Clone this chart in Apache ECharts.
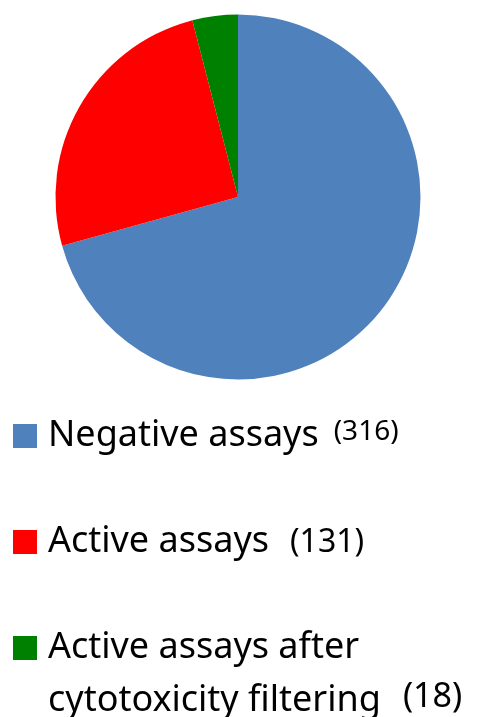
<!DOCTYPE html>
<html>
<head>
<meta charset="utf-8">
<script src="https://cdn.jsdelivr.net/npm/echarts@6/dist/echarts.min.js"></script>
<style>
  html, body { margin: 0; padding: 0; background: #ffffff; }
  #chart { width: 485px; height: 717px; }
</style>
</head>
<body>
<div id="chart"></div>
<script>
// Assay outcomes
const categories = ['Negative assays', 'Active assays', 'Active assays after\ncytotoxicity filtering'];
const counts = [316, 131, 18];
const colors = ['#4F81BD', '#FF0000', '#008000'];

// Actives that survive cytotoxicity filtering are a subset of all actives,
// so the red slice holds the remaining actives and the green slice the survivors.
const sliceValues = [counts[0], counts[1] - counts[2], counts[2]];

const FONT = '"Noto Sans", "Open Sans", sans-serif';

// Legend block, drawn as graphic elements so the wrapped entry keeps its
// swatch beside the first line.
const legendTop = 424;      // top of first swatch
const legendStep = 106;     // distance between entries
const lineGap = 53;         // distance between wrapped lines
const countStyles = [
  { fontSize: 28, raise: 4, gap: 15 },
  { fontSize: 32, raise: -1, gap: 21 },
  { fontSize: 34, raise: 4, gap: 22 }
];

function countPadding(cs) {
  return cs.raise >= 0
    ? [0, 0, cs.raise * 2, cs.gap]
    : [-cs.raise * 2, 0, 0, cs.gap];
}

const graphics = [];
categories.forEach(function (name, i) {
  const top = legendTop + i * legendStep;
  graphics.push({
    type: 'rect',
    left: 13, top: top,
    shape: { width: 24, height: 24 },
    style: { fill: colors[i] },
    silent: true
  });
  const lines = name.split('\n');
  lines.forEach(function (line, j) {
    const last = j === lines.length - 1;
    const cs = countStyles[i];
    graphics.push({
      type: 'text',
      x: 48,
      y: top + 12 + j * lineGap,
      silent: true,
      style: {
        text: '{a|' + line + '}' + (last ? '{b|(' + counts[i] + ')}' : ''),
        verticalAlign: 'middle',
        align: 'left',
        fill: '#000',
        rich: {
          a: { fontFamily: FONT, fontSize: 36, fill: '#000' },
          b: { fontFamily: FONT, fontSize: cs.fontSize, fill: '#000',
               padding: countPadding(cs) }
        }
      }
    });
  });
});

const chart = echarts.init(document.getElementById('chart'), null, { renderer: 'canvas' });
chart.setOption({
  animation: false,
  backgroundColor: '#ffffff',
  series: [{
    type: 'pie',
    center: [238, 197],
    radius: 182.5,
    startAngle: 90,
    clockwise: true,
    silent: true,
    label: { show: false },
    labelLine: { show: false },
    emphasis: { disabled: true },
    itemStyle: { borderWidth: 0 },
    data: categories.map(function (name, i) {
      return { name: name, value: sliceValues[i], itemStyle: { color: colors[i] } };
    })
  }],
  graphic: graphics
});
</script>
</body>
</html>
